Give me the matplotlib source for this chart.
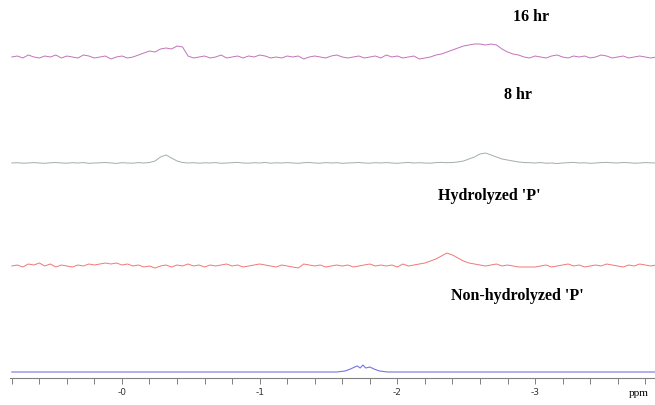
#!usr/bin/env python3

import numpy as np
import matplotlib
matplotlib.use("Agg")
import matplotlib.pyplot as plt

# chemical shift axis of the sampled spectra (ppm), 0.04 ppm spacing
shift = np.round(np.linspace(0.80, -3.88, 118), 2)

# intensities (arbitrary units)
hr16 = ([0, 1, -1, 2, 0, -1, 1, 0, 2, -1, 1, 0, -1, 2, 1, -1, 0, 1, -2, 0, 1, -1, 0, 2]
        + [4, 6, 5, 8, 9, 8, 11, 10]
        + [1, -1, 0, 1, -1, 0, 2, -1, 0, 1, -1, 1, 0, 2, 1, -1, 0, -1, 1, 0,
           1, -2, 0, 1, 0, -1, 1, 2, 0, -1, 0, 1, -1, 0, 1, -1, 2, 0, 1, -1,
           0, 1, -2, -1, 0, 2]
        + [3, 5, 7, 9, 11, 12, 13, 13, 12, 13, 12, 8, 5, 3, 2]
        + [0, -1, 1, 0, -1, 1, 2, 0, -1, 1, 0, 1, -1, 0, 2, 1, -1, 0, 1, -1,
           0, 1, 0, -1, 0])

hr8 = ([0, 0.3, -0.2, 0, 0.4, 0, -0.3, 0.2, 0.5, 0, -0.2, 0.3, 0, 0.4, -0.3,
        0, 0.2, 0.5, 0, -0.4, 0.3, 0, -0.2, 0.4, 0, 0.5]
       + [2, 6, 8, 5, 2, 0.5]
       + [0, 0.3, -0.2, 0.2, 0, 0.4, -0.3, 0, 0.3, 0.6, 0, -0.2, 0.3, 0, 0.5,
          -0.2, 0.2, 0, 0.4, 0, -0.3, 0.3, 0.5, 0, -0.2, 0.4, 0, 0.3, -0.3, 0,
          0.2, 0.5, 0, -0.2, 0.3, 0, 0.4, 0, -0.3, 0.2, 0.5, 0, 0.3, 0, -0.2,
          0.4, 0.6, 0.3, 0.5]
       + [1, 2, 4, 6, 9, 10, 8, 6, 4, 3, 2, 1]
       + [0.5, 0.3, 0, 0.4, -0.2, 0, -0.5, 0, 0.3, 0.6, 0, 0.2, -0.3, 0, 0.4,
          0.6, 0.2, 0, 0.5, 0.3, -0.2, 0, 0.4, 0.2, 0])

hydrolyzed = ([0, 1, -1, 2, 1, 3, 0, 2, -1, 1, 0, -1, 1, 0, 2, 1, 2, 3, 2, 3,
               1, 2, 0, 1, -1, 0, -2, 0, 1, -1, 1, 0, 2, 0, 1, -1, 1, 0, 1, 2,
               0, 1, -1, 0, 1, 2, 1, 0, -1, 1, 0, -1, -2, 2, 1, 0, 1, -1, 0, 1,
               0, 1, -1, 0, 1, 2, 0, 1, 0, 1, -1, 2, 0, 1, 2]
              + [3, 5, 7, 10, 13, 11, 8, 5, 3]
              + [2, 1, 0, 1, 2, 0, 1, 0, -1, -1, -1, -1, 0, 1, -1, 0, 1, 2, 0, 1,
                 -1, 0, 1, 0, 2, 1, 0, -1, 1, 0, 2, 1, 0, 1])

# non-hydrolyzed trace is flat apart from the multiplet
nonhyd_shift = [0.80, -1.56, -1.62, -1.66, -1.69, -1.71, -1.73, -1.75, -1.77,
                -1.80, -1.83, -1.87, -1.93, -3.88]
nonhyd = [0, 0, 1, 3, 5, 6, 4, 7, 4, 5, 3, 1, 0, 0]

labels = ["16 hr", "8 hr", "Hydrolyzed 'P'", "Non-hydrolyzed 'P'"]

W, H = 655, 405


def px(x, y):
    return x / W, 1 - y / H


def stack():
    fig = plt.figure(figsize=(W / 100, H / 100), dpi=100)
    ax = fig.add_axes([10 / W, 27 / H, 645 / W, 378 / H])

    # vertical offsets of each trace
    ax.plot(shift, np.array(hr16) + 321, color="#c272ba", lw=0.7)
    ax.plot(shift, np.array(hr8) + 215, color="#a0aeaa", lw=0.7)
    ax.plot(shift, np.array(hydrolyzed) + 112, color="#f27676", lw=0.7)
    ax.plot(nonhyd_shift, np.array(nonhyd) + 6, color="#7474e2", lw=0.8)

    ax.set_xlim(0.813, -3.871)
    ax.set_ylim(0, 378)

    for s in ["top", "left", "right"]:
        ax.spines[s].set_visible(False)
    ax.spines["bottom"].set_color("#808080")
    ax.spines["bottom"].set_linewidth(0.8)
    ax.set_yticks([])

    ax.set_xticks([0, -1, -2, -3])
    ax.set_xticklabels(["-0", "-1", "-2", "-3"])
    ax.set_xticks(np.round(np.arange(0.8, -3.9, -0.2), 1), minor=True)
    ax.tick_params(axis="x", which="both", direction="out", length=4,
                   width=0.7, color="#808080", labelsize=6.5,
                   labelcolor="#333333", pad=3)

    font = dict(family="Liberation Serif", weight="bold", fontsize=11.5,
                ha="center", va="center")
    fig.text(*px(531, 17), labels[0], **font)
    fig.text(*px(518, 95), labels[1], **font)
    fig.text(*px(489, 196), labels[2], **font)
    fig.text(*px(517, 296), labels[3], **font)

    fig.text(*px(639, 394), "ppm", family="Liberation Serif", fontsize=8,
             ha="center", va="center")

    fig.savefig("out.png", dpi=100)
    plt.close(fig)


if __name__ == "__main__":
    stack()
